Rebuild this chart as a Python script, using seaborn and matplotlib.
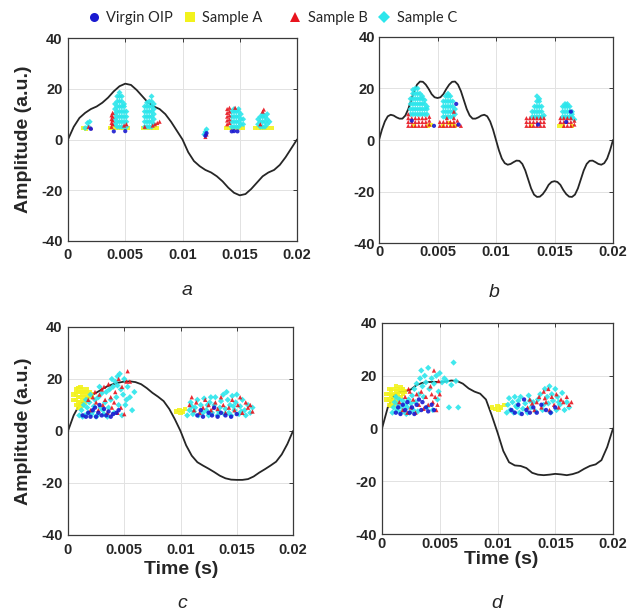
import matplotlib
matplotlib.use("Agg")
import matplotlib.pyplot as plt
import seaborn as sns
import pandas as pd
from matplotlib.lines import Line2D

# ---------------- data ----------------
series_names = ["Virgin OIP", "Sample A", "Sample B", "Sample C"]
series_colors = ["#1a1ad0", "#f2f21c", "#e8141e", "#2ce6ec"]
series_markers = ["o", "s", "^", "D"]

x_ticks = [0, 0.005, 0.01, 0.015, 0.02]
x_tick_labels = ["0", "0.005", "0.01", "0.015", "0.02"]
y_ticks = [-40, -20, 0, 20, 40]
y_tick_labels = ["-40", "-20", "0", "20", "40"]
panel_letters = ["a", "b", "c", "d"]

time_41 = [0, 0.0005, 0.001, 0.0015, 0.002, 0.0025, 0.003, 0.0035, 0.004, 0.0045,
           0.005, 0.0055, 0.006, 0.0065, 0.007, 0.0075, 0.008, 0.0085, 0.009, 0.0095,
           0.01, 0.0105, 0.011, 0.0115, 0.012, 0.0125, 0.013, 0.0135, 0.014, 0.0145,
           0.015, 0.0155, 0.016, 0.0165, 0.017, 0.0175, 0.018, 0.0185, 0.019, 0.0195, 0.02]
time_81 = [0, 0.00025, 0.0005, 0.00075, 0.001, 0.00125, 0.0015, 0.00175, 0.002, 0.00225,
           0.0025, 0.00275, 0.003, 0.00325, 0.0035, 0.00375, 0.004, 0.00425, 0.0045, 0.00475,
           0.005, 0.00525, 0.0055, 0.00575, 0.006, 0.00625, 0.0065, 0.00675, 0.007, 0.00725,
           0.0075, 0.00775, 0.008, 0.00825, 0.0085, 0.00875, 0.009, 0.00925, 0.0095, 0.00975,
           0.01, 0.01025, 0.0105, 0.01075, 0.011, 0.01125, 0.0115, 0.01175, 0.012, 0.01225,
           0.0125, 0.01275, 0.013, 0.01325, 0.0135, 0.01375, 0.014, 0.01425, 0.0145, 0.01475,
           0.015, 0.01525, 0.0155, 0.01575, 0.016, 0.01625, 0.0165, 0.01675, 0.017, 0.01725,
           0.0175, 0.01775, 0.018, 0.01825, 0.0185, 0.01875, 0.019, 0.01925, 0.0195, 0.01975, 0.02]

wave_a = [0, 5, 8.5, 10.5, 12, 13, 14.5, 16.5, 19, 21, 22, 21.5, 19.5, 17, 14.5, 13, 12, 10, 7, 3.5,
          0, -5, -8.5, -10.5, -12, -13, -14.5, -16.5, -19, -21, -22, -21.5, -19.5, -17, -14.5, -13,
          -12, -10, -7, -3.5, 0]
wave_b = [0, 4.0, 7.2, 9.2, 9.8, 9.5, 8.8, 8.3, 8.3, 9.5, 12.0, 15.5, 19.0, 21.5, 22.7, 22.6, 21.5,
          19.8, 17.8, 16.6, 16.3, 16.6, 17.8, 19.8, 21.5, 22.6, 22.7, 21.5, 19.0, 15.5, 12.0, 9.5,
          8.3, 8.3, 8.8, 9.5, 9.8, 9.2, 7.2, 4.0,
          0, -4.0, -7.2, -9.0, -9.6, -9.3, -8.6, -8.0, -8.1, -9.3, -11.8, -15.3, -18.8, -21.2, -22.1,
          -22.0, -21.0, -19.4, -17.4, -16.3, -16.0, -16.3, -17.4, -19.4, -21.0, -22.0, -22.1, -21.2,
          -18.8, -15.3, -11.8, -9.3, -8.1, -8.0, -8.6, -9.3, -9.6, -9.0, -7.2, -4.0, 0]
wave_c = [0, 6, 10, 12, 13.5, 14.7, 16, 17.2, 18, 18.6, 19, 19.1, 18.8, 18, 16.5, 14.7, 13.2, 11.5,
          8.5, 4.5, 0, -5.5, -9.5, -12, -13.3, -14.5, -15.8, -17.2, -18.2, -18.7, -18.8, -18.8,
          -18.5, -17.5, -16, -14.7, -13.3, -11.8, -9, -5, 0]
wave_d = [0, 8, 12.5, 13.8, 14.1, 14.8, 16.5, 17.3, 17.6, 17.7, 17.6, 17.8, 18.2, 18, 17, 15.2, 14,
          13.2, 11, 5, -1.5, -8.5, -12.8, -14, -14.2, -15, -16.8, -17.5, -17.7, -17.5, -17.2, -17.4,
          -17.7, -17.3, -16.6, -15.3, -14.2, -13.6, -12, -7, 0]

# ---- scatter points (time, amplitude) ----
a_virgin = [(0.0020, 4.2), (0.0040, 3.2), (0.0050, 3.3), (0.0120, 1.5), (0.0143, 3.2),
            (0.0148, 3.2), (0.0145, 3.3), (0.0121, 2.5)]
a_sampleA = [(0.0016, 4.0), (0.0013, 4.5), (0.0037, 4.6), (0.0040, 4.6), (0.0043, 4.6),
             (0.0046, 4.6), (0.0049, 4.6), (0.0052, 4.6), (0.0066, 4.6), (0.0069, 4.6),
             (0.0072, 4.6), (0.0075, 4.6), (0.0078, 4.6), (0.0138, 4.6), (0.0141, 4.6),
             (0.0144, 4.6), (0.0147, 4.6), (0.0150, 4.6), (0.0153, 4.6), (0.0163, 4.6),
             (0.0166, 4.6), (0.0169, 4.6), (0.0172, 4.6), (0.0175, 4.6), (0.0178, 4.6)]
a_sampleB = [(0.0018, 5), (0.0020, 4.5), (0.0038, 5), (0.0038, 6.5), (0.0038, 8), (0.0038, 9.5),
             (0.0039, 6), (0.0039, 7.5), (0.0039, 9), (0.0039, 10.5), (0.0051, 6), (0.0049, 5.5),
             (0.0076, 6), (0.0078, 6.5), (0.0080, 7), (0.0074, 5.5), (0.0067, 5),
             (0.0121, 2), (0.0120, 1), (0.0139, 6), (0.0139, 7.5), (0.0139, 9), (0.0139, 10.5),
             (0.0139, 12), (0.0141, 6.5), (0.0141, 8), (0.0141, 9.5), (0.0141, 11), (0.0141, 12.5),
             (0.0146, 12.5), (0.0170, 11), (0.0171, 11.8), (0.0168, 6)]
a_sampleC = [(0.0017, 6.5), (0.0018, 5), (0.0015, 4.5), (0.0019, 7),
             (0.0041, 6), (0.0041, 8), (0.0041, 10), (0.0041, 12), (0.0041, 14),
             (0.0043, 5), (0.0043, 7), (0.0043, 9), (0.0043, 11), (0.0043, 13), (0.0043, 15), (0.0043, 17),
             (0.0045, 5), (0.0045, 7), (0.0045, 9), (0.0045, 11), (0.0045, 13), (0.0045, 15), (0.0045, 17), (0.0045, 18.5),
             (0.0047, 5), (0.0047, 7), (0.0047, 9), (0.0047, 11), (0.0047, 13), (0.0047, 15), (0.0047, 17),
             (0.0049, 5), (0.0049, 7), (0.0049, 9), (0.0049, 11), (0.0049, 13), (0.0049, 14),
             (0.0051, 5), (0.0051, 7), (0.0051, 9), (0.0051, 11),
             (0.0067, 5), (0.0067, 7), (0.0067, 9), (0.0067, 11), (0.0067, 13),
             (0.0069, 5), (0.0069, 7), (0.0069, 9), (0.0069, 11), (0.0069, 13), (0.0069, 14.5),
             (0.0071, 5), (0.0071, 7), (0.0071, 9), (0.0071, 11), (0.0071, 13), (0.0071, 15),
             (0.0073, 5), (0.0073, 7), (0.0073, 9), (0.0073, 11), (0.0073, 13), (0.0073, 15), (0.0073, 17),
             (0.0075, 6), (0.0075, 8), (0.0075, 10), (0.0075, 12), (0.0075, 14),
             (0.0120, 3), (0.0121, 4), (0.0119, 2),
             (0.0143, 5), (0.0143, 7), (0.0143, 9), (0.0143, 11),
             (0.0145, 5), (0.0145, 7), (0.0145, 9), (0.0145, 11), (0.0145, 12),
             (0.0147, 5), (0.0147, 7), (0.0147, 9), (0.0147, 11),
             (0.0149, 5), (0.0149, 7), (0.0149, 9), (0.0149, 11), (0.0149, 12),
             (0.0151, 6), (0.0151, 8), (0.0151, 10), (0.0153, 6), (0.0153, 8),
             (0.0166, 6), (0.0166, 8), (0.0168, 5), (0.0168, 7), (0.0168, 9),
             (0.0170, 5), (0.0170, 7), (0.0170, 9), (0.0170, 10),
             (0.0172, 5), (0.0172, 7), (0.0172, 9), (0.0174, 6), (0.0174, 8), (0.0174, 10), (0.0176, 7)]

b_virgin = [(0.0028, 7.5), (0.0047, 5.5), (0.0066, 14), (0.0068, 6), (0.0160, 7), (0.0164, 11), (0.0136, 6)]
b_sampleA = [(0.0042, 5.3), (0.0044, 5.8), (0.0030, 5.5), (0.0055, 5.5), (0.0060, 6.5), (0.0065, 5.5),
             (0.0062, 6), (0.0154, 5.3), (0.0157, 5.5), (0.0165, 5.5), (0.0130, 5.3)]
b_sampleB = [(0.0025, 5.5), (0.0025, 7), (0.0025, 8.5), (0.0025, 10),
             (0.0028, 5.5), (0.0028, 7), (0.0028, 8.5), (0.0031, 5.5), (0.0031, 7), (0.0031, 8.5),
             (0.0034, 5.5), (0.0034, 7), (0.0034, 8.5), (0.0037, 5.5), (0.0037, 7), (0.0037, 8.5),
             (0.0040, 5.5), (0.0040, 7), (0.0040, 8.5), (0.0043, 6), (0.0043, 7.5), (0.0043, 9),
             (0.0052, 5.5), (0.0052, 7), (0.0055, 5.5), (0.0055, 7), (0.0058, 5.5), (0.0058, 7), (0.0058, 8.5),
             (0.0061, 5.5), (0.0061, 7), (0.0064, 5.5), (0.0064, 7), (0.0064, 8.5), (0.0064, 11),
             (0.0067, 6), (0.0067, 7.5), (0.0070, 5.5),
             (0.0126, 5.5), (0.0126, 7), (0.0126, 8.5), (0.0129, 5.5), (0.0129, 7), (0.0129, 8.5),
             (0.0132, 5.5), (0.0132, 7), (0.0132, 8.5), (0.0135, 5.5), (0.0135, 7), (0.0135, 8.5),
             (0.0138, 5.5), (0.0138, 7), (0.0138, 8.5), (0.0141, 5.5), (0.0141, 7), (0.0141, 8.5),
             (0.0155, 7), (0.0155, 8.5), (0.0158, 5.5), (0.0158, 7), (0.0158, 8.5),
             (0.0161, 5.5), (0.0161, 7), (0.0161, 8.5), (0.0164, 5.5), (0.0164, 7), (0.0164, 8.5),
             (0.0167, 6), (0.0167, 7.5)]
b_sampleC = [(0.0027, 10), (0.0027, 12), (0.0027, 14), (0.0027, 16),
             (0.0029, 10), (0.0029, 12), (0.0029, 14), (0.0029, 16), (0.0029, 18), (0.0029, 19.5),
             (0.0031, 10), (0.0031, 12), (0.0031, 14), (0.0031, 16), (0.0031, 18), (0.0031, 20),
             (0.0033, 10), (0.0033, 12), (0.0033, 14), (0.0033, 16), (0.0033, 18), (0.0033, 20),
             (0.0035, 10), (0.0035, 12), (0.0035, 14), (0.0035, 16), (0.0035, 18),
             (0.0037, 10), (0.0037, 12), (0.0037, 14), (0.0037, 16), (0.0037, 17),
             (0.0039, 10), (0.0039, 12), (0.0039, 14), (0.0039, 15.5),
             (0.0041, 10), (0.0041, 12), (0.0041, 13),
             (0.0055, 9), (0.0055, 11), (0.0055, 13), (0.0055, 15),
             (0.0057, 9), (0.0057, 11), (0.0057, 13), (0.0057, 15), (0.0057, 17),
             (0.0059, 9), (0.0059, 11), (0.0059, 13), (0.0059, 15), (0.0059, 17), (0.0059, 18),
             (0.0061, 9), (0.0061, 11), (0.0061, 13), (0.0061, 15), (0.0061, 17),
             (0.0063, 9), (0.0063, 11), (0.0063, 13), (0.0063, 15), (0.0065, 10), (0.0065, 12),
             (0.0131, 9), (0.0131, 11), (0.0133, 9), (0.0133, 11), (0.0133, 13),
             (0.0135, 9), (0.0135, 11), (0.0135, 13), (0.0135, 15), (0.0135, 17),
             (0.0137, 9), (0.0137, 11), (0.0137, 13), (0.0137, 15), (0.0137, 16),
             (0.0139, 9), (0.0139, 11), (0.0139, 13), (0.0141, 9.5),
             (0.0157, 9), (0.0157, 11), (0.0157, 13), (0.0159, 9), (0.0159, 11), (0.0159, 13), (0.0159, 14),
             (0.0161, 9), (0.0161, 11), (0.0161, 13), (0.0161, 14), (0.0163, 9), (0.0163, 11), (0.0163, 13),
             (0.0165, 9), (0.0165, 10), (0.0165, 11), (0.0167, 8)]

c_virgin = [(0.0013, 6), (0.0016, 5.5), (0.0018, 7), (0.0020, 5.5), (0.0022, 8), (0.0025, 5.5),
            (0.0027, 7), (0.0030, 6), (0.0032, 8.5), (0.0034, 6), (0.0036, 7.5), (0.0038, 5.5),
            (0.0040, 6.5), (0.0043, 7), (0.0045, 8), (0.0028, 10), (0.0024, 9),
            (0.0115, 6), (0.0120, 5.5), (0.0125, 7), (0.0128, 6), (0.0133, 5.5), (0.0136, 7),
            (0.0140, 6), (0.0145, 5.5), (0.0150, 6.5), (0.0118, 8), (0.0130, 9)]
c_sampleA = [(0.0005, 12), (0.0005, 14), (0.0007, 10), (0.0007, 12), (0.0007, 14), (0.0007, 16),
             (0.0009, 9), (0.0009, 11), (0.0009, 13), (0.0009, 15), (0.0009, 16.5),
             (0.0011, 9), (0.0011, 11), (0.0011, 13), (0.0011, 15), (0.0011, 17),
             (0.0013, 10), (0.0013, 12), (0.0013, 14), (0.0013, 16),
             (0.0015, 11), (0.0015, 13), (0.0015, 15), (0.0017, 12), (0.0017, 14), (0.0017, 16),
             (0.0019, 13), (0.0019, 15), (0.0021, 14),
             (0.0096, 7.5), (0.0099, 8), (0.0102, 7.5), (0.0104, 8.5), (0.0100, 7)]
c_sampleB = [(0.0020, 8), (0.0022, 13), (0.0024, 15), (0.0025, 11), (0.0027, 8), (0.0028, 14),
             (0.0030, 16), (0.0031, 10), (0.0033, 12), (0.0035, 7), (0.0036, 18), (0.0038, 13),
             (0.0039, 9), (0.0041, 11), (0.0042, 15), (0.0044, 7), (0.0045, 20), (0.0047, 9),
             (0.0048, 17), (0.0050, 6.5), (0.0052, 19), (0.0053, 23), (0.0055, 19), (0.0018, 12),
             (0.0032, 17),
             (0.0108, 10), (0.0110, 13), (0.0112, 8), (0.0114, 11), (0.0117, 7), (0.0120, 9),
             (0.0122, 12), (0.0125, 10), (0.0127, 8), (0.0129, 9), (0.0131, 11), (0.0133, 8.5),
             (0.0136, 13), (0.0138, 10), (0.0140, 7), (0.0143, 9), (0.0146, 12), (0.0148, 8),
             (0.0151, 10), (0.0153, 13), (0.0155, 7), (0.0158, 11), (0.0160, 9), (0.0162, 10),
             (0.0164, 7.5)]
c_sampleC = [(0.0010, 6), (0.0012, 8), (0.0014, 10), (0.0015, 6), (0.0017, 9), (0.0019, 11),
             (0.0021, 6.5), (0.0023, 9.5), (0.0024, 12), (0.0026, 6), (0.0027, 13), (0.0029, 9),
             (0.0030, 14.5), (0.0032, 6.5), (0.0033, 11), (0.0034, 15), (0.0036, 9), (0.0037, 16),
             (0.0038, 12), (0.0040, 17), (0.0041, 7), (0.0042, 19), (0.0043, 13), (0.0044, 21),
             (0.0045, 10), (0.0046, 22), (0.0047, 16), (0.0049, 14), (0.0050, 20), (0.0051, 10),
             (0.0053, 17), (0.0055, 13), (0.0057, 8), (0.0059, 15), (0.0020, 14), (0.0016, 12),
             (0.0028, 17), (0.0039, 20), (0.0048, 6), (0.0035, 5.5), (0.0025, 5.5), (0.0013, 5.5),
             (0.0031, 8), (0.0022, 7.5), (0.0018, 7), (0.0044, 17.5), (0.0052, 12),
             (0.0106, 6), (0.0108, 8), (0.0109, 11), (0.0111, 6.5), (0.0113, 9), (0.0115, 12),
             (0.0116, 6), (0.0118, 10), (0.0120, 7), (0.0121, 12.5), (0.0123, 8), (0.0125, 6),
             (0.0126, 11), (0.0128, 7), (0.0130, 10), (0.0131, 13), (0.0133, 6), (0.0135, 9),
             (0.0136, 11.5), (0.0138, 14), (0.0139, 6.5), (0.0140, 8.5), (0.0141, 15), (0.0142, 12),
             (0.0144, 10), (0.0145, 6), (0.0146, 13.5), (0.0148, 8), (0.0149, 11), (0.0150, 14),
             (0.0152, 6.5), (0.0153, 9.5), (0.0155, 12), (0.0157, 8), (0.0158, 6), (0.0160, 10),
             (0.0162, 7), (0.0164, 9), (0.0110, 9.5), (0.0124, 10), (0.0127, 13), (0.0134, 7.5),
             (0.0143, 7), (0.0147, 9.5), (0.0154, 7.5), (0.0112, 7.5)]

d_virgin = [(0.0012, 6), (0.0014, 8), (0.0016, 5.5), (0.0018, 9), (0.0020, 7), (0.0022, 10),
            (0.0024, 6), (0.0026, 8), (0.0028, 5.5), (0.0030, 9), (0.0032, 11), (0.0034, 7),
            (0.0035, 10), (0.0038, 8), (0.0040, 6.5), (0.0043, 9), (0.0045, 7),
            (0.0112, 7), (0.0115, 6), (0.0118, 9), (0.0121, 5.5), (0.0123, 11), (0.0125, 7),
            (0.0128, 6), (0.0131, 8), (0.0134, 6), (0.0138, 9), (0.0142, 7), (0.0146, 6), (0.0150, 8)]
d_sampleA = [(0.0004, 11), (0.0004, 13), (0.0006, 9), (0.0006, 11), (0.0006, 13), (0.0006, 15),
             (0.0008, 8.5), (0.0008, 10.5), (0.0008, 12.5), (0.0008, 14.5),
             (0.0010, 9), (0.0010, 11), (0.0010, 13), (0.0010, 15),
             (0.0012, 10), (0.0012, 12), (0.0012, 14), (0.0012, 16),
             (0.0014, 11), (0.0014, 13), (0.0014, 15), (0.0016, 12), (0.0016, 14), (0.0016, 15.5),
             (0.0018, 13), (0.0018, 15), (0.0020, 14),
             (0.0095, 8), (0.0098, 7.5), (0.0100, 8.5), (0.0103, 8), (0.0106, 9), (0.0101, 7)]
d_sampleB = [(0.0015, 10), (0.0018, 7), (0.0020, 12), (0.0023, 15), (0.0024, 14), (0.0025, 8),
             (0.0027, 11), (0.0029, 6), (0.0030, 13), (0.0032, 9), (0.0034, 14), (0.0036, 7.5),
             (0.0038, 12), (0.0040, 9), (0.0042, 16), (0.0043, 13), (0.0044, 10), (0.0045, 22),
             (0.0046, 12), (0.0047, 7), (0.0048, 9), (0.0049, 18), (0.0050, 13), (0.0022, 6),
             (0.0126, 8), (0.0128, 11), (0.0130, 9.5), (0.0132, 7), (0.0134, 10), (0.0136, 12),
             (0.0138, 8), (0.0140, 14), (0.0142, 10), (0.0144, 15), (0.0145, 7), (0.0147, 12),
             (0.0149, 9), (0.0151, 13), (0.0153, 8), (0.0155, 11), (0.0157, 10), (0.0160, 12),
             (0.0162, 9), (0.0164, 10), (0.0141, 11.5)]
d_sampleC = [(0.0009, 6), (0.0010, 8), (0.0011, 10), (0.0012, 12), (0.0013, 7), (0.0014, 9),
             (0.0015, 11), (0.0016, 6), (0.0017, 8), (0.0018, 10.5), (0.0019, 6.5), (0.0020, 9),
             (0.0021, 5.5), (0.0022, 8), (0.0023, 11), (0.0024, 6), (0.0025, 9.5), (0.0026, 12.5),
             (0.0027, 7), (0.0028, 15), (0.0029, 10), (0.0030, 17), (0.0031, 6.5), (0.0032, 13),
             (0.0033, 19), (0.0034, 22), (0.0035, 16), (0.0036, 12), (0.0037, 20), (0.0038, 17.5),
             (0.0040, 23), (0.0041, 15), (0.0043, 19), (0.0045, 17), (0.0047, 20), (0.0049, 14),
             (0.0050, 21), (0.0052, 17.5), (0.0054, 19), (0.0056, 18), (0.0058, 8), (0.0060, 16.5),
             (0.0062, 25), (0.0064, 18), (0.0066, 8), (0.0039, 8), (0.0044, 7), (0.0048, 11),
             (0.0108, 6), (0.0109, 9), (0.0110, 11.5), (0.0111, 7), (0.0113, 10), (0.0114, 6),
             (0.0115, 12), (0.0117, 8), (0.0118, 10.5), (0.0119, 6), (0.0120, 12), (0.0122, 7.5),
             (0.0124, 9.5), (0.0126, 6), (0.0127, 12.5), (0.0129, 8), (0.0131, 10), (0.0133, 6.5),
             (0.0135, 11), (0.0137, 13), (0.0139, 7), (0.0140, 9), (0.0141, 15), (0.0143, 12),
             (0.0144, 9.5), (0.0145, 16), (0.0146, 6), (0.0147, 13), (0.0148, 10.5), (0.0150, 15),
             (0.0151, 7), (0.0152, 12), (0.0154, 9), (0.0156, 13.5), (0.0158, 7), (0.0160, 10),
             (0.0162, 8), (0.0116, 8.5), (0.0128, 10.5), (0.0153, 10)]

# ---------------- figure ----------------
sns.set_theme(style="whitegrid")
plt.rcParams["font.family"] = ["Liberation Sans", "DejaVu Sans"]

W, H = 627, 613
fig = plt.figure(figsize=(W / 100, H / 100), dpi=100)

# panel boxes in pixels: left, top, right, bottom
boxes = [(68, 38, 297, 241), (379, 37, 613, 243), (68, 327, 293, 535), (382, 323, 613, 534)]
xpads = [5, 1.5, 5.8, 2.2]
ypads = [4, 3, 4, 3.5]
marker_sizes = [9, 9, 10, 10]

waves = [(time_41, wave_a), (time_81, wave_b), (time_41, wave_c), (time_41, wave_d)]
points = [
    [a_sampleA, a_sampleC, a_sampleB, a_virgin],
    [b_sampleA, b_sampleC, b_sampleB, b_virgin],
    [c_sampleA, c_sampleC, c_sampleB, c_virgin],
    [d_sampleA, d_sampleC, d_sampleB, d_virgin],
]
draw_order = ["Sample A", "Sample C", "Sample B", "Virgin OIP"]
palette = dict(zip(series_names, series_colors))
markers = dict(zip(series_names, series_markers))

axes = []
for i, (l, t, r, b) in enumerate(boxes):
    ax = fig.add_axes([l / W, 1 - b / H, (r - l) / W, (b - t) / H])
    axes.append(ax)
    tt, ww = waves[i]
    sns.lineplot(x=tt, y=ww, ax=ax, color="#262626", linewidth=1.3, estimator=None, sort=False, zorder=2)
    rows = []
    for name, pts in zip(draw_order, points[i]):
        for (px, py) in pts:
            rows.append({"t": px, "amp": py, "series": name})
    df = pd.DataFrame(rows)
    sns.scatterplot(data=df, x="t", y="amp", hue="series", style="series", palette=palette,
                    markers=markers, s=marker_sizes[i], linewidth=0, alpha=0.9, legend=False,
                    ax=ax, zorder=3)
    ax.set_xlim(0, 0.02)
    ax.set_ylim(-40, 40)
    ax.set_xticks(x_ticks)
    ax.set_xticklabels(x_tick_labels)
    ax.set_yticks(y_ticks)
    ax.set_yticklabels(y_tick_labels)
    ax.set_xlabel("")
    ax.set_ylabel("")
    ax.set_facecolor("white")
    ax.grid(True, color="#e2e2e2", linewidth=0.7)
    for sp in ax.spines.values():
        sp.set_visible(True)
        sp.set_color("#3a3a3a")
        sp.set_linewidth(0.9)
    ax.tick_params(direction="in", length=3, width=0.7, top=True, right=True,
                   colors="#3a3a3a", labelcolor="#262626", labelsize=10.5)
    ax.tick_params(axis="x", pad=xpads[i])
    ax.tick_params(axis="y", pad=ypads[i])
    for lbl in ax.get_xticklabels() + ax.get_yticklabels():
        lbl.set_fontweight("bold")

# y labels (panels a and c)
for (l, t, r, b) in [boxes[0], boxes[2]]:
    fig.text(24 / W, 1 - ((t + b) / 2) / H, "Amplitude (a.u.)", rotation=90, ha="center",
             va="center", fontsize=14, fontweight="bold", color="#262626")

# x labels (panels c and d)
fig.text(181 / W, 1 - 569 / H, "Time (s)", ha="center", va="center", fontsize=14,
         fontweight="bold", color="#262626")
fig.text(501 / W, 1 - 559 / H, "Time (s)", ha="center", va="center", fontsize=14,
         fontweight="bold", color="#262626")

# panel letters
letter_pos = [(187, 295), (494, 297), (182, 608), (497, 608)]
for letter, (lx, ly) in zip(panel_letters, letter_pos):
    fig.text(lx / W, 1 - ly / H, letter, ha="center", va="baseline", fontsize=14,
             style="italic", color="#262626", family=["Liberation Sans", "DejaVu Sans"])

# legends at the top
def handle(k):
    return Line2D([], [], linestyle="none", marker=series_markers[k], color=series_colors[k],
                  markersize=6.5, markeredgewidth=0)

leg_kw = dict(loc="center", ncol=2, frameon=False, handlelength=0.9, handletextpad=0.4,
              columnspacing=0.7, prop={"family": ["Lato", "DejaVu Sans"], "size": 10.5})
leg1 = fig.legend([handle(0), handle(1)], series_names[0:2], bbox_to_anchor=(175 / W, 1 - 18 / H), **leg_kw)
leg2 = fig.legend([handle(2), handle(3)], series_names[2:4], bbox_to_anchor=(373 / W, 1 - 18 / H), **leg_kw)
for leg in (leg1, leg2):
    for txt in leg.get_texts():
        txt.set_color("#262626")

fig.savefig("out.png", dpi=100, facecolor="white")
